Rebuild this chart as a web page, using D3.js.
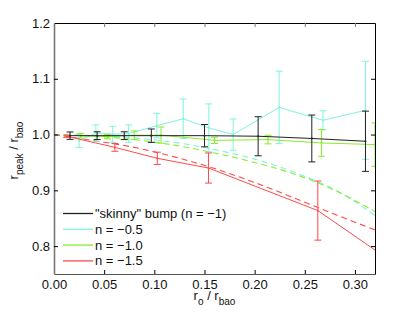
<!DOCTYPE html>
<html>
<head>
<meta charset="utf-8">
<script src="https://cdn.jsdelivr.net/npm/d3@7"></script>
<style>
  body { margin: 0; background: #fff; }
  text { font-family: "Liberation Sans", Arial, sans-serif; }
</style>
</head>
<body>
<div id="chart"></div>
<script>
// measured points (x = r_o / r_bao, y = r_peak / r_bao, err = half error bar)
var skinnyX = [0.016, 0.043, 0.070, 0.097, 0.150, 0.2035, 0.257, 0.3105];
var skinnyY = [0.998, 0.998, 0.998, 0.998, 0.998, 0.997, 0.993, 0.988];
var skinnyErr = [0.0066, 0.007, 0.007, 0.012, 0.02, 0.035, 0.042, 0.054];

var cyanX = [0.025, 0.0418, 0.0585, 0.0744, 0.1026, 0.1288, 0.1544, 0.1786, 0.2244, 0.2682, 0.3105];
var cyanY = [0.989, 1.0024, 1.0005, 1.0018, 1.016, 1.0283, 1.012, 1.000, 1.0487, 1.0256, 1.0435];
var cyanErr = [0.012, 0.015, 0.0143, 0.0156, 0.022, 0.0355, 0.043, 0.028, 0.065, 0.017, 0.088];

var greenX = [0.0267, 0.0533, 0.08, 0.1067, 0.16, 0.2133, 0.2667, 0.32];
var greenY = [0.9977, 0.9964, 0.9988, 0.999, 0.9896, 0.991, 0.985, 0.982];
var greenErr = [0.004, 0.004, 0.0078, 0.0145, 0.0057, 0.0077, 0.024, 0.039];

var redX = [0.0126, 0.0607, 0.103, 0.154, 0.263, 0.32];
var redY = [0.997, 0.977, 0.9574, 0.940, 0.8637, 0.793];
var redErr = [0.002, 0.007, 0.011, 0.027, 0.053, 0];

// prediction curves (dashed)
var dashX = [0, 0.04, 0.08, 0.12, 0.16, 0.20, 0.24, 0.28, 0.32];
var cyanDash = [1.0, 0.998, 0.994, 0.986, 0.973, 0.956, 0.932, 0.901, 0.855];
var greenDash = [1.0, 0.997, 0.991, 0.981, 0.967, 0.950, 0.929, 0.900, 0.862];
var redDash = [1.0, 0.989, 0.977, 0.960, 0.939, 0.914, 0.886, 0.857, 0.829];

var xTicks = [0, 0.05, 0.10, 0.15, 0.20, 0.25, 0.30];
var yTicks = [0.8, 0.9, 1.0, 1.1, 1.2];
var legendLabels = ['"skinny" bump (n = \u22121)', "n = \u22120.5", "n = \u22121.0", "n = \u22121.5"];

var colors = { black: "#222", cyan: "#80f3de", green: "#86ee2c", red: "#ff4a4a" };

var margin = {top: 23, right: 40, bottom: 39, left: 54}
  , width = 415 - margin.left - margin.right
  , height = 313 - margin.top - margin.bottom;

var x = d3.scaleLinear().domain([0, 0.32]).range([0, width]);
var y = d3.scaleLinear().domain([0.75, 1.2]).range([height, 0]);

var svg = d3.select("#chart").append("svg")
    .attr("width", 415)
    .attr("height", 313)
  .append("g")
    .attr("transform", "translate(" + margin.left + "," + margin.top + ")");

svg.append("clipPath").attr("id", "clip")
  .append("rect").attr("width", width).attr("height", height);

function zip(xs, ys, es) {
  return xs.map(function(d, i) { return {x: d, y: ys[i], e: es ? es[i] : 0}; });
}

var line = d3.line()
    .x(function(d) { return x(d.x); })
    .y(function(d) { return y(d.y); });

var smooth = d3.line()
    .x(function(d) { return x(d.x); })
    .y(function(d) { return y(d.y); })
    .curve(d3.curveMonotoneX);

var plot = svg.append("g").attr("clip-path", "url(#clip)");

// dashed predictions
[[cyanDash, colors.cyan], [greenDash, colors.green], [redDash, colors.red]].forEach(function(s) {
  plot.append("path")
      .datum(zip(dashX, s[0]))
      .attr("fill", "none")
      .attr("stroke", s[1])
      .attr("stroke-width", 1.1)
      .attr("stroke-dasharray", "6,4")
      .attr("d", smooth);
});

function series(xs, ys, es, col) {
  var data = zip(xs, ys, es);
  plot.append("path")
      .datum(data)
      .attr("fill", "none")
      .attr("stroke", col)
      .attr("stroke-width", 1)
      .attr("d", line);

  var bars = plot.selectAll(null)
      .data(data.filter(function(d) { return d.e > 0; }))
    .enter().append("g")
      .attr("stroke", col)
      .attr("stroke-width", 1);
  bars.append("line")
      .attr("x1", function(d) { return x(d.x); })
      .attr("x2", function(d) { return x(d.x); })
      .attr("y1", function(d) { return y(d.y - d.e); })
      .attr("y2", function(d) { return y(d.y + d.e); });
  bars.append("line")
      .attr("x1", function(d) { return x(d.x) - 3.5; })
      .attr("x2", function(d) { return x(d.x) + 3.5; })
      .attr("y1", function(d) { return y(d.y + d.e); })
      .attr("y2", function(d) { return y(d.y + d.e); });
  bars.append("line")
      .attr("x1", function(d) { return x(d.x) - 3.5; })
      .attr("x2", function(d) { return x(d.x) + 3.5; })
      .attr("y1", function(d) { return y(d.y - d.e); })
      .attr("y2", function(d) { return y(d.y - d.e); });
  bars.append("circle")
      .attr("cx", function(d) { return x(d.x); })
      .attr("cy", function(d) { return y(d.y); })
      .attr("r", 1)
      .attr("fill", col)
      .attr("stroke", "none");
}

series(cyanX, cyanY, cyanErr, colors.cyan);
series(greenX, greenY, greenErr, colors.green);
series(redX, redY, redErr, colors.red);
series(skinnyX, skinnyY, skinnyErr, colors.black);

// axes, ticks pointing inward on all four sides
var fmtX = d3.format(".2f"), fmtY = d3.format(".1f");

svg.append("g")
    .attr("transform", "translate(0," + height + ")")
    .call(d3.axisBottom(x).tickValues(xTicks).tickFormat(fmtX).tickSizeInner(-4).tickSizeOuter(0).tickPadding(6))
    .call(function(g) { g.select(".domain").attr("stroke", "#555"); });

svg.append("g")
    .call(d3.axisLeft(y).tickValues(yTicks).tickFormat(fmtY).tickSizeInner(-4).tickSizeOuter(0).tickPadding(4))
    .call(function(g) { g.select(".domain").attr("stroke", "#777").attr("stroke-width", 1.6); });

svg.append("g")
    .call(d3.axisTop(x).tickValues(xTicks).tickFormat("").tickSizeInner(-4).tickSizeOuter(0))
    .call(function(g) { g.selectAll(".tick line").attr("stroke", "#777"); });

svg.append("g")
    .attr("transform", "translate(" + width + ",0)")
    .call(d3.axisRight(y).tickValues(yTicks).tickFormat("").tickSizeInner(-4).tickSizeOuter(0));

svg.selectAll(".tick text").attr("font-size", 13).attr("fill", "#111")
    .style("font-family", "'Liberation Sans', Arial, sans-serif");

// axis titles
var xt = svg.append("text")
    .attr("x", width / 2)
    .attr("y", height + 26)
    .attr("text-anchor", "middle")
    .attr("font-size", 13)
    .attr("fill", "#111");
xt.append("tspan").text("r");
xt.append("tspan").attr("dy", 5).attr("font-size", 10).text("o");
xt.append("tspan").attr("dy", -5).text(" / r");
xt.append("tspan").attr("dy", 5).attr("font-size", 10).text("bao");

var yt = svg.append("text")
    .attr("transform", "translate(" + (-36) + "," + (height / 2 + 2) + ") rotate(-90)")
    .attr("text-anchor", "middle")
    .attr("font-size", 13)
    .attr("fill", "#111");
yt.append("tspan").text("r");
yt.append("tspan").attr("dy", 5).attr("font-size", 10).text("peak");
yt.append("tspan").attr("dy", -5).text(" / r");
yt.append("tspan").attr("dy", 5).attr("font-size", 10).text("bao");

// legend
var legendColors = [colors.black, colors.cyan, colors.green, colors.red];
var legend = svg.selectAll(".legend")
    .data(legendLabels)
  .enter().append("g")
    .attr("class", "legend")
    .attr("transform", function(d, i) { return "translate(9," + (190.5 + i * 15.8) + ")"; });
legend.append("line")
    .attr("x1", 0).attr("x2", 30)
    .attr("stroke", function(d, i) { return legendColors[i]; })
    .attr("stroke-width", 1.3);
legend.append("text")
    .attr("x", 32)
    .attr("dy", "0.35em")
    .attr("font-size", 13)
    .attr("fill", "#111")
    .text(function(d) { return d; });
</script>
</body>
</html>
